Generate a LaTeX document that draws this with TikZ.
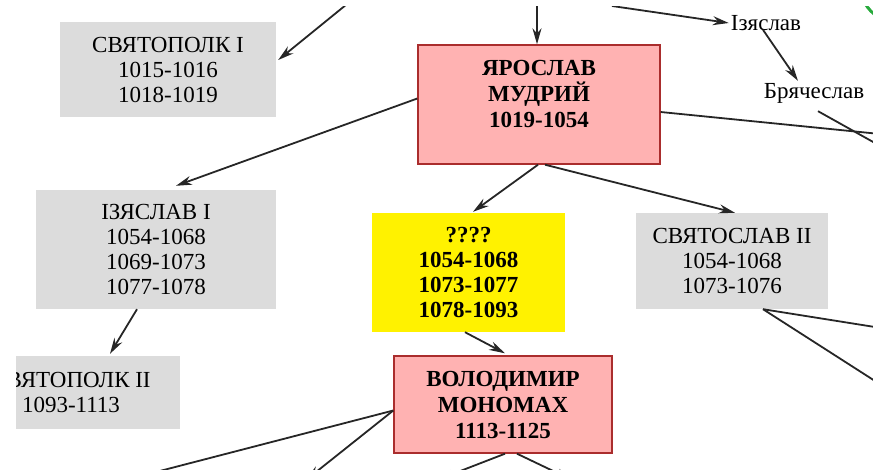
\documentclass[tikz,border=0pt]{standalone}
\usepackage{fontspec}
\setmainfont{Liberation Serif}
\usetikzlibrary{arrows.meta}
\definecolor{princegray}{RGB}{220,220,220}
\definecolor{rulerpink}{RGB}{255,178,178}
\definecolor{rulerred}{RGB}{170,45,45}
\definecolor{rulergreen}{RGB}{40,170,60}

\begin{document}
\begin{tikzpicture}[x=1pt, y=-1pt,
        every node/.style={font=\fontsize{23}{25}\selectfont, align=center, inner sep=2pt},
        prince/.style={rectangle, fill=princegray, inner sep=0pt},
        ruler/.style={rectangle, fill=rulerpink, draw=rulerred, line width=1.4pt, inner sep=0pt,
          font=\fontsize{23}{26}\selectfont\bfseries},
        regent/.style={rectangle, fill=yellow, inner sep=0pt, font=\fontsize{23}{25}\selectfont\bfseries},
        arrow/.style={-{Stealth[length=16pt,width=9pt]}, line width=1.8pt, black!85}]
  \useasboundingbox (0,0) rectangle (873,469);
  \clip (16,6) rectangle (873,469);
  % boxes
  \node[prince, minimum width=216, minimum height=95] (sp1) at (168,69.5) {СВЯТОПОЛК I\\1015-1016\\1018-1019};
  \node[ruler, minimum width=242, minimum height=119, text depth=21pt] (yar) at (539,104.5) {ЯРОСЛАВ\\МУДРИЙ\\1019-1054};
  \node[prince, minimum width=240, minimum height=119] (iz1) at (156,249.5) {ІЗЯСЛАВ I\\1054-1068\\1069-1073\\1077-1078};
  \node[regent, minimum width=193, minimum height=119] (q) at (468.5,272.5) {????\\1054-1068\\1073-1077\\1078-1093};
  \node[prince, minimum width=192, minimum height=96] (sv2) at (732,261) {СВЯТОСЛАВ II\\1054-1068\\1073-1076};
  \node[prince, minimum width=218, minimum height=73] (sp2) at (71,392.5) {СВЯТОПОЛК II\\1093-1113};
  \node[ruler, minimum width=218, minimum height=97] (vm) at (503,404.5) {ВОЛОДИМИР\\МОНОМАХ\\1113-1125};
  \node (izn) at (766,23) {Ізяслав};
  \node (brn) at (814,93) {Брячеслав};
  \draw[rulergreen, line width=3pt] (905,-15) ellipse [x radius=45, y radius=40];
  % free ends
  \coordinate (t1) at (352,0);
  \coordinate (t2) at (537,0);
  \coordinate (t3) at (612,6);
  \coordinate (e5) at (900,136);
  \coordinate (e6) at (900,157);
  \coordinate (e13) at (900,331);
  \coordinate (e14) at (900,397);
  \coordinate (e15) at (125,480);
  \coordinate (e16) at (306,480);
  \coordinate (e17) at (437,480);
  \coordinate (e18) at (572,480);
  % edges
  \draw[arrow] (t1) -- ([xshift=2pt,yshift=9.5pt]sp1.east);
  \draw[arrow] (t2) -- ([xshift=-2pt]yar.north);
  \draw[arrow] (t3) -- (izn.west);
  \draw[arrow] ([xshift=-3pt,yshift=3pt]izn.south) -- ([xshift=-16pt]brn.north);
  \draw[arrow] ([yshift=-7.5pt]yar.east) -- (e5);
  \draw[arrow] ([xshift=4pt,yshift=-6pt]brn.south) -- (e6);
  \draw[arrow] ([yshift=6pt]yar.west) -- ([xshift=20pt,yshift=4pt]iz1.north);
  \draw[arrow] ([xshift=-1pt]yar.south) -- ([xshift=4.5pt,yshift=1pt]q.north);
  \draw[arrow] ([xshift=6pt]yar.south) -- ([xshift=3pt]sv2.north);
  \draw[arrow] ([xshift=-19pt]iz1.south) -- ([xshift=39pt,yshift=2pt]sp2.north);
  \draw[arrow] ([xshift=-3.5pt]q.south) -- ([xshift=2pt,yshift=2pt]vm.north);
  \draw[arrow] ([xshift=31pt]sv2.south) -- (e13);
  \draw[arrow] ([xshift=31pt]sv2.south) -- (e14);
  \draw[arrow] ([yshift=-6pt]vm.west) -- (e15);
  \draw[arrow] ([yshift=-6pt]vm.west) -- (e16);
  \draw[arrow] ([xshift=2pt]vm.south) -- (e17);
  \draw[arrow] ([xshift=14pt]vm.south) -- (e18);
\end{tikzpicture}
\end{document}
